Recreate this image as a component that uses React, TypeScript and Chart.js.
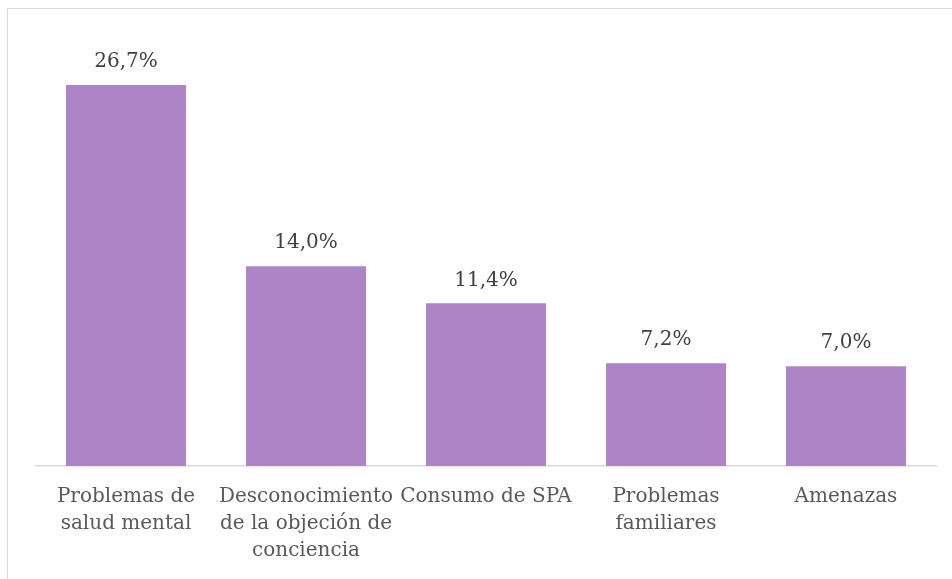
import React, { useEffect, useRef } from "react";
import { Chart, registerables } from "chart.js";

Chart.register(...registerables);

const categories: string[][] = [
  ["Problemas de", "salud mental"],
  ["Desconocimiento", "de la objeción de", "conciencia"],
  ["Consumo de SPA"],
  ["Problemas", "familiares"],
  ["Amenazas"],
];
const values: number[] = [26.7, 14.0, 11.4, 7.2, 7.0];
const valueLabels: string[] = ["26,7%", "14,0%", "11,4%", "7,2%", "7,0%"];

const FONT = "'DejaVu Serif', serif";

const labelPlugin = {
  id: "valueLabels",
  afterDatasetsDraw(chart: any) {
    const ctx = chart.ctx;
    const meta = chart.getDatasetMeta(0);
    ctx.save();
    ctx.font = `20px ${FONT}`;
    ctx.fillStyle = "#404040";
    ctx.textAlign = "center";
    ctx.textBaseline = "middle";
    meta.data.forEach((bar: any, i: number) => {
      ctx.fillText(valueLabels[i], bar.x, bar.y - 23);
    });
    ctx.restore();
  },
};

export default function App() {
  const ref = useRef<HTMLCanvasElement>(null);
  useEffect(() => {
    if (!ref.current) return;
    const chart = new Chart(ref.current, {
      type: "bar",
      data: {
        labels: categories,
        datasets: [
          {
            data: values,
            backgroundColor: "#ad84c6",
            categoryPercentage: 1,
            barPercentage: 0.667,
          },
        ],
      },
      options: {
        animation: false,
        responsive: false,
        maintainAspectRatio: false,
        layout: { padding: { left: 36, right: 16, top: 38, bottom: 0 } },
        plugins: { legend: { display: false }, tooltip: { enabled: false } },
        scales: {
          y: { display: false, min: 0, max: 30 },
          x: {
            afterFit: (scale: any) => {
              scale.height = 113;
            },
            grid: { display: false, drawTicks: false },
            border: { display: true, color: "#d9d9d9", width: 1.5 },
            ticks: {
              color: "#595959",
              padding: 17,
              maxRotation: 0,
              autoSkip: false,
              font: { family: FONT, size: 20, lineHeight: 1.35 },
            },
          },
        },
      },
      plugins: [labelPlugin],
    });
    return () => chart.destroy();
  }, []);
  return (
    <div style={{ position: "fixed", left: 0, top: 0, width: 952, height: 579, overflow: "hidden", background: "#fff" }}>
      <div style={{ position: "absolute", left: 7, top: 8, width: 1000, height: 1000, border: "1px solid #d9d9d9" }} />
      <canvas ref={ref} width={952} height={579} style={{ position: "absolute", left: 0, top: 0 }} />
    </div>
  );
}
